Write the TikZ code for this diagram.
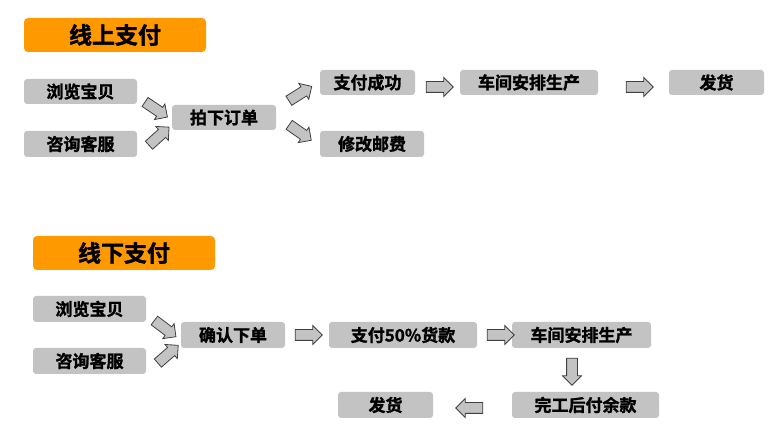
\documentclass[tikz,border=0pt]{standalone}
\usepackage{fontspec}
\setmainfont{Noto Sans CJK SC}
\newfontfamily\cjkb{Noto Sans CJK SC Bold}[FakeBold=1.5]
\usetikzlibrary{shapes.arrows}
\definecolor{boxgray}{HTML}{C3C3C3}
\definecolor{titleorange}{HTML}{FF9900}
\tikzset{
  box/.style={fill=boxgray, rounded corners=3pt, inner sep=0pt, font=\cjkb\fontsize{17}{17}\selectfont, text=black},
  titlebox/.style={fill=titleorange, rounded corners=4pt, inner sep=0pt, font=\cjkb\fontsize{23}{23}\selectfont, text=black},
  barrow/.style={single arrow, draw=black!75, fill=boxgray, line width=0.8pt, minimum height=27pt, single arrow head extend=4pt, inner xsep=0pt, inner ysep=5pt, single arrow tip angle=90},
}
\begin{document}
\begin{tikzpicture}[x=1pt,y=1pt]
\useasboundingbox (0,0) rectangle (778,433);
% ---- top section ----
\node[titlebox, minimum width=182pt, minimum height=34pt] (t1) at (115,398) {线上支付};
\node[box, minimum width=113pt, minimum height=25pt] (a1) at (80.5,341.5) {浏览宝贝};
\node[box, minimum width=113pt, minimum height=26pt] (a2) at (80.5,289) {咨询客服};
\node[box, minimum width=104pt, minimum height=25pt] (a3) at (224,315.5) {拍下订单};
\node[box, minimum width=95pt, minimum height=25pt] (a4) at (367.5,350.5) {支付成功};
\node[box, minimum width=104pt, minimum height=26pt] (a5) at (372,289) {修改邮费};
\node[box, minimum width=138pt, minimum height=25pt] (a6) at (529,350.5) {车间安排生产};
\node[box, minimum width=95pt, minimum height=25pt] (a7) at (716.5,350.5) {发货};
\node[barrow, rotate=-34] (r1) at (154,325) {};
\node[barrow, rotate=42] (r2) at (157,295) {};
\node[barrow, rotate=32] (r3) at (298,338) {};
\node[barrow, rotate=-35] (r4) at (298,302) {};
\node[barrow] (r5) at (437,346) {};
\node[barrow] (r6) at (637,346) {};
% ---- bottom section ----
\node[titlebox, minimum width=182pt, minimum height=34pt] (t2) at (124,180) {线下支付};
\node[box, minimum width=113pt, minimum height=26pt] (b1) at (89.5,124) {浏览宝贝};
\node[box, minimum width=113pt, minimum height=26pt] (b2) at (89.5,72) {咨询客服};
\node[box, minimum width=104pt, minimum height=26pt] (b3) at (233,98) {确认下单};
\node[box, minimum width=148pt, minimum height=26pt] (b4) at (403,98) {支付50\%货款};
\node[box, minimum width=139pt, minimum height=26pt] (b5) at (581.5,98) {车间安排生产};
\node[box, minimum width=147pt, minimum height=26pt] (b6) at (585.5,28) {完工后付余款};
\node[box, minimum width=95pt, minimum height=26pt] (b7) at (385.5,28) {发货};
\node[barrow, rotate=-37] (s1) at (163,106) {};
\node[barrow, rotate=41] (s2) at (166,77) {};
\node[barrow] (s3) at (306,98) {};
\node[barrow] (s4) at (498,98) {};
\node[barrow, rotate=-90] (s5) at (572,64) {};
\node[barrow, rotate=180] (s6) at (472,25) {};
\end{tikzpicture}
\end{document}
